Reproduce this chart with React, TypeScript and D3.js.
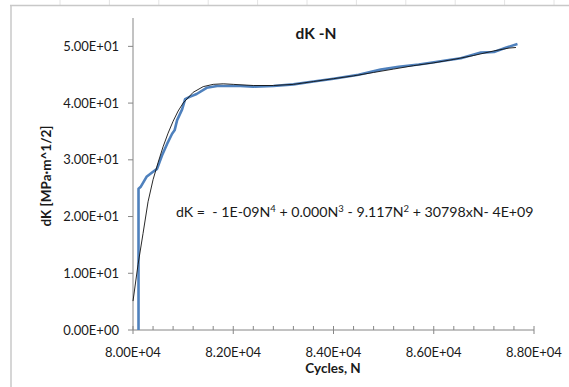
import * as d3 from "d3";

const X_TICKS = [80000, 82000, 84000, 86000, 88000];
const X_TICK_LABELS = ["8.00E+04", "8.20E+04", "8.40E+04", "8.60E+04", "8.80E+04"];
const Y_TICKS = [0, 10, 20, 30, 40, 50];
const Y_TICK_LABELS = ["0.00E+00", "1.00E+01", "2.00E+01", "3.00E+01", "4.00E+01", "5.00E+01"];

// measured dK vs cycles (blue)
const MEASURED_N = [
  80110, 80110, 80150, 80270, 80400, 80480, 80580, 80680, 80780, 80830, 80880, 80980, 81040, 81130,
  81270, 81470, 81680, 82140, 82400, 82800, 83200, 83600, 84000, 84500, 84940, 85300, 85700, 85940,
  86300, 86540, 86940, 87200, 87450, 87670,
];
const MEASURED_DK = [
  0, 24.9, 25.2, 27.0, 27.9, 28.4, 30.8, 32.8, 34.6, 35.2, 37.0, 38.9, 40.7, 41.1, 41.6, 42.7, 43.0,
  43.0, 42.9, 43.0, 43.3, 43.8, 44.3, 45.0, 45.9, 46.4, 46.8, 47.1, 47.6, 47.9, 48.9, 49.0, 49.8, 50.4,
];

// polynomial trendline (black)
const TREND_N = [
  80000, 80100, 80200, 80300, 80400, 80500, 80600, 80700, 80800, 80900, 81000, 81200, 81400, 81600,
  81800, 82000, 82400, 82800, 83200, 83600, 84000, 84400, 84800, 85200, 85600, 86000, 86400, 86800,
  87200, 87500, 87640,
];
const TREND_DK = [
  5.1, 11.5, 17.0, 22.6, 26.5, 29.5, 32.3, 34.7, 36.8, 38.6, 40.0, 41.9, 42.9, 43.3, 43.4, 43.3, 43.1,
  43.1, 43.3, 43.8, 44.3, 44.8, 45.4, 46.0, 46.6, 47.1, 47.7, 48.4, 49.2, 49.7, 49.8,
];

const W = 569;
const H = 387;
const FONT = "Lato, 'Open Sans', sans-serif";

export default function App() {
  const x = d3.scaleLinear().domain([80000, 88000]).range([133, 534]);
  const y = d3.scaleLinear().domain([0, 55]).range([330, 18]);

  const line = d3
    .line<[number, number]>()
    .x((d) => x(d[0]))
    .y((d) => y(d[1]));

  const measured = MEASURED_N.map((n, i) => [n, MEASURED_DK[i]] as [number, number]);
  const trend = TREND_N.map((n, i) => [n, TREND_DK[i]] as [number, number]);
  const minor = d3.range(80000, 88001, 400).filter((v) => !X_TICKS.includes(v));
  const sheetMarks = d3.range(60, W, 49.4);

  const axisColor = "#868686";
  const textColor = "#1a1a1a";

  return (
    <svg
      width={W}
      height={H}
      style={{ position: "absolute", left: 0, top: 0, background: "#fff" }}
      fontFamily={FONT}
    >
      {/* chart frame */}
      {sheetMarks.map((m) => (
        <line key={m} x1={m} x2={m} y1={0} y2={5} stroke="#e4e4e4" />
      ))}
      <line x1={10} x2={W} y1={5.5} y2={5.5} stroke="#c8c8c8" strokeWidth={1.5} />
      <line x1={11} x2={11} y1={5} y2={H} stroke="#c8c8c8" strokeWidth={1.5} />

      {/* y axis */}
      <line x1={x(80000)} x2={x(80000)} y1={y(55)} y2={y(0)} stroke={axisColor} />
      {Y_TICKS.map((t, i) => (
        <g key={t}>
          <line x1={x(80000) - 5} x2={x(80000)} y1={y(t)} y2={y(t)} stroke={axisColor} />
          <text
            x={119}
            y={y(t)}
            dy="0.36em"
            textAnchor="end"
            fontSize={13}
            fill={textColor}
          >
            {Y_TICK_LABELS[i]}
          </text>
        </g>
      ))}

      {/* x axis */}
      <line x1={x(80000)} x2={x(88000)} y1={y(0)} y2={y(0)} stroke={axisColor} />
      {minor.map((t) => (
        <line key={t} x1={x(t)} x2={x(t)} y1={y(0) - 4} y2={y(0)} stroke={axisColor} />
      ))}
      {X_TICKS.map((t, i) => (
        <g key={t}>
          <line x1={x(t)} x2={x(t)} y1={y(0) - 4} y2={y(0) + 4} stroke={axisColor} />
          <text x={x(t)} y={357} textAnchor="middle" fontSize={13} fill={textColor}>
            {X_TICK_LABELS[i]}
          </text>
        </g>
      ))}

      {/* series */}
      <path d={line(measured) ?? ""} fill="none" stroke="#4f81bd" strokeWidth={2.6} strokeLinejoin="round" />
      <path d={line(trend) ?? ""} fill="none" stroke="#111" strokeWidth={0.9} strokeLinejoin="round" />

      {/* titles */}
      <text x={316} y={39} textAnchor="middle" fontSize={15.5} fontWeight="bold" fill={textColor}>
        dK -N
      </text>
      <text x={333} y={373} textAnchor="middle" fontSize={13.5} fontWeight="bold" fill={textColor}>
        Cycles, N
      </text>
      <text
        transform="translate(51,176) rotate(-90)"
        textAnchor="middle"
        fontSize={13.5}
        fontWeight="bold"
        fill={textColor}
      >
        dK [MPa·m^1/2]
      </text>

      {/* trendline equation */}
      <text x={176} y={217} fontSize={14.2} fill={textColor} style={{ whiteSpace: "pre" }}>
        <tspan>dK =  - 1E-09N</tspan>
        <tspan fontSize={9.5} dy={-5}>4</tspan>
        <tspan dy={5}> + 0.000N</tspan>
        <tspan fontSize={9.5} dy={-5}>3</tspan>
        <tspan dy={5}> - 9.117N</tspan>
        <tspan fontSize={9.5} dy={-5}>2</tspan>
        <tspan dy={5}> + 30798xN- 4E+09</tspan>
      </text>
    </svg>
  );
}
